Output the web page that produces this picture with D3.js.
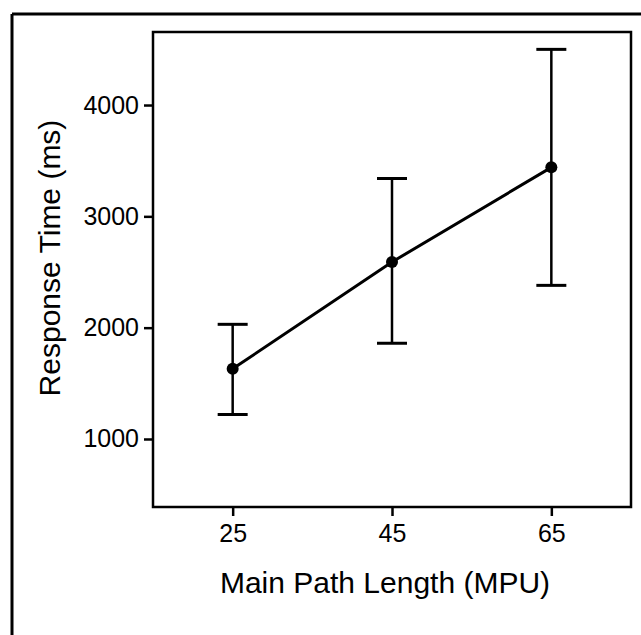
<!DOCTYPE html>
<html>
<head>
<meta charset="utf-8">
<script src="https://cdn.jsdelivr.net/npm/d3@7"></script>
<style>
  body { margin: 0; background: #fff; }
  svg text { font-family: "Liberation Sans", Arial, sans-serif; fill: #000; }
</style>
</head>
<body>
<div id="chart"></div>
<script>
// path lengths (MPU)
var pathLengths = [25, 45, 65];
// mean response time (ms)
var meanTimes = [1630, 2590, 3440];
// error bar ends
var upperTimes = [2030, 3340, 4500];
var lowerTimes = [1220, 1860, 2380];
var yTickValues = [1000, 2000, 3000, 4000];

var drawChart = function() {
  var outerWidth = 641;
  var outerHeight = 635;

  //plot box position
  var margin = { top: 32, right: 10, bottom: 128, left: 153 };
  var innerWidth = outerWidth - margin.left - margin.right;
  var innerHeight = outerHeight - margin.top - margin.bottom;

  var root = d3
    .select("#chart")
    .append("svg")
    .attr("width", outerWidth)
    .attr("height", outerHeight);

  //frame lines (top and left only, cropped figure)
  root.append("line")
    .attr("x1", 12).attr("y1", 14).attr("x2", outerWidth).attr("y2", 14)
    .style("stroke", "#000").style("stroke-width", 3);
  root.append("line")
    .attr("x1", 12).attr("y1", 14).attr("x2", 12).attr("y2", outerHeight)
    .style("stroke", "#000").style("stroke-width", 3);

  var svg = root
    .append("g")
    .attr("transform", "translate(" + margin.left + "," + margin.top + ")");

  var xScale = d3.scaleLinear().domain([15, 75]).range([0, innerWidth]);
  var yScale = d3.scaleLinear().domain([389, 4656]).range([innerHeight, 0]);

  //axes
  var xAxis = d3.axisBottom(xScale).tickValues(pathLengths).tickSize(9).tickPadding(8);
  var yAxis = d3.axisLeft(yScale).tickValues(yTickValues).tickSize(9).tickPadding(5).tickFormat(d3.format("d"));

  var gx = svg.append("g")
    .attr("transform", "translate(0," + innerHeight + ")")
    .call(xAxis);
  var gy = svg.append("g").call(yAxis);

  [gx, gy].forEach(function(g) {
    g.select(".domain").remove();
    g.selectAll(".tick line").style("stroke", "#000").style("stroke-width", 2.5);
    g.selectAll(".tick text")
      .style("font-size", "25px")
      .style("font-family", "Liberation Sans, Arial, sans-serif");
  });

  //plot box
  svg.append("rect")
    .attr("width", innerWidth)
    .attr("height", innerHeight)
    .style("fill", "none")
    .style("stroke", "#000")
    .style("stroke-width", 2.5);

  var data = pathLengths.map(function(d, i) {
    return { x: d, mean: meanTimes[i], hi: upperTimes[i], lo: lowerTimes[i] };
  });

  //error bars
  var capHalf = 15;
  var bars = svg.selectAll(".err").data(data).enter().append("g").attr("class", "err");
  bars.append("line")
    .attr("x1", function(d) { return xScale(d.x); })
    .attr("x2", function(d) { return xScale(d.x); })
    .attr("y1", function(d) { return yScale(d.hi); })
    .attr("y2", function(d) { return yScale(d.lo); })
    .style("stroke", "#000").style("stroke-width", 2.5);
  bars.append("line")
    .attr("x1", function(d) { return xScale(d.x) - capHalf; })
    .attr("x2", function(d) { return xScale(d.x) + capHalf; })
    .attr("y1", function(d) { return yScale(d.hi); })
    .attr("y2", function(d) { return yScale(d.hi); })
    .style("stroke", "#000").style("stroke-width", 3);
  bars.append("line")
    .attr("x1", function(d) { return xScale(d.x) - capHalf; })
    .attr("x2", function(d) { return xScale(d.x) + capHalf; })
    .attr("y1", function(d) { return yScale(d.lo); })
    .attr("y2", function(d) { return yScale(d.lo); })
    .style("stroke", "#000").style("stroke-width", 3);

  //mean line
  var line = d3.line()
    .x(function(d) { return xScale(d.x); })
    .y(function(d) { return yScale(d.mean); });
  svg.append("path")
    .datum(data)
    .attr("d", line)
    .style("fill", "none")
    .style("stroke", "#000")
    .style("stroke-width", 3);

  svg.selectAll(".dot").data(data).enter().append("circle")
    .attr("class", "dot")
    .attr("cx", function(d) { return xScale(d.x); })
    .attr("cy", function(d) { return yScale(d.mean); })
    .attr("r", 6)
    .style("fill", "#000");

  //axis titles
  svg.append("text")
    .attr("x", innerWidth / 2 - 7)
    .attr("y", innerHeight + 86)
    .attr("text-anchor", "middle")
    .style("font-size", "30px")
    .text("Main Path Length (MPU)");

  svg.append("text")
    .attr("transform", "translate(" + (60 - margin.left) + "," + (258 - margin.top) + ") rotate(-90)")
    .attr("text-anchor", "middle")
    .style("font-size", "30px")
    .text("Response Time (ms)");
};

drawChart();
</script>
</body>
</html>
